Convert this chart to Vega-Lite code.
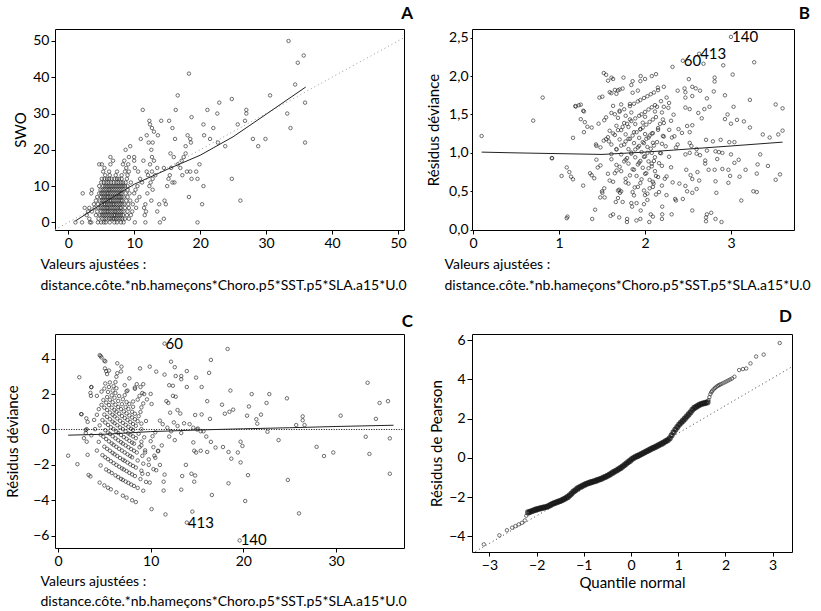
{
"$schema": "https://vega.github.io/schema/vega-lite/v6.json",
"padding": {"left": 5, "top": 4, "right": 0, "bottom": 0},
"bounds": "flush",
"columns": 2,
"spacing": {"row": 104, "column": 68},
"config": {
 "font": "Lato",
 "view": {"stroke": "black", "strokeWidth": 1},
 "axis": {"grid": false, "domain": false, "tickColor": "black", "tickSize": 4, "labelColor": "black", "labelFontSize": 14, "labelFont": "Lato", "titleFont": "Lato", "titleFontSize": 14, "titleFontWeight": "normal", "titleColor": "black", "labelPadding": 2},
 "title": {"anchor": "end", "fontSize": 17, "fontWeight": "bold", "font": "Lato", "color": "black"},
 "point": {"shape": "circle", "filled": false, "size": 12, "stroke": "#1a1a1a", "strokeWidth": 0.9},
 "text": {"font": "Lato", "fontSize": 15, "align": "left", "baseline": "middle", "dx": 1, "color": "black"}
},
"datasets": {
"a": [
{"x":3.3,"y":0},{"x":3.5,"y":0},{"x":4.5,"y":0},{"x":5.0,"y":0},{"x":5.4,"y":0},{"x":5.7,"y":0},{"x":6.3,"y":0},{"x":7.0,"y":0},{"x":7.4,"y":0},{"x":8.0,"y":0},{"x":8.4,"y":0},{"x":1.1,"y":0},{"x":2.1,"y":0},{"x":10.1,"y":0},{"x":11.7,"y":0},{"x":13.9,"y":0},{"x":19.6,"y":0},
{"x":3.2,"y":1},{"x":4.6,"y":1},{"x":5.2,"y":1},{"x":5.5,"y":1},{"x":6.2,"y":1},{"x":6.8,"y":1},{"x":7.3,"y":1},{"x":7.9,"y":1},{"x":8.6,"y":1},{"x":9.2,"y":1},{"x":14.5,"y":1},
{"x":2.8,"y":2},{"x":4.2,"y":2},{"x":4.8,"y":2},{"x":5.4,"y":2},{"x":6.0,"y":2},{"x":6.6,"y":2},{"x":7.1,"y":2},{"x":7.7,"y":2},{"x":8.3,"y":2},{"x":8.9,"y":2},{"x":9.5,"y":2},{"x":11.6,"y":2},
{"x":3.0,"y":3},{"x":3.6,"y":3},{"x":4.4,"y":3},{"x":5.0,"y":3},{"x":5.6,"y":3},{"x":6.1,"y":3},{"x":6.7,"y":3},{"x":7.2,"y":3},{"x":7.8,"y":3},{"x":8.4,"y":3},{"x":9.0,"y":3},{"x":9.7,"y":3},{"x":11.8,"y":3},{"x":13.5,"y":3},
{"x":2.5,"y":4},{"x":3.2,"y":4},{"x":4.0,"y":4},{"x":4.6,"y":4},{"x":5.2,"y":4},{"x":5.8,"y":4},{"x":6.3,"y":4},{"x":6.9,"y":4},{"x":7.5,"y":4},{"x":8.0,"y":4},{"x":8.6,"y":4},{"x":9.2,"y":4},{"x":10.3,"y":4},{"x":11.5,"y":4},
{"x":3.9,"y":5},{"x":4.5,"y":5},{"x":5.1,"y":5},{"x":5.6,"y":5},{"x":6.2,"y":5},{"x":6.8,"y":5},{"x":7.3,"y":5},{"x":7.9,"y":5},{"x":8.5,"y":5},{"x":9.1,"y":5},{"x":9.8,"y":5},{"x":11.7,"y":5},{"x":13.8,"y":5},{"x":14.8,"y":5},{"x":20.3,"y":5},
{"x":4.2,"y":6},{"x":4.8,"y":6},{"x":5.4,"y":6},{"x":6.0,"y":6},{"x":6.5,"y":6},{"x":7.1,"y":6},{"x":7.7,"y":6},{"x":8.2,"y":6},{"x":8.8,"y":6},{"x":9.4,"y":6},{"x":10.4,"y":6},{"x":12.6,"y":6},{"x":14.6,"y":6},{"x":26.1,"y":6},
{"x":4.4,"y":7},{"x":5.0,"y":7},{"x":5.6,"y":7},{"x":6.1,"y":7},{"x":6.7,"y":7},{"x":7.3,"y":7},{"x":7.8,"y":7},{"x":8.4,"y":7},{"x":9.0,"y":7},{"x":10.8,"y":7},{"x":18.3,"y":7},
{"x":3.5,"y":8},{"x":4.7,"y":8},{"x":5.3,"y":8},{"x":5.9,"y":8},{"x":6.4,"y":8},{"x":7.0,"y":8},{"x":7.6,"y":8},{"x":8.1,"y":8},{"x":8.7,"y":8},{"x":9.3,"y":8},{"x":10.0,"y":8},{"x":2.2,"y":8},{"x":12.0,"y":8},
{"x":3.6,"y":9},{"x":4.9,"y":9},{"x":5.5,"y":9},{"x":6.1,"y":9},{"x":6.6,"y":9},{"x":7.2,"y":9},{"x":7.8,"y":9},{"x":8.4,"y":9},{"x":9.0,"y":9},{"x":10.2,"y":9},{"x":12.8,"y":9},
{"x":4.7,"y":10},{"x":5.3,"y":10},{"x":5.9,"y":10},{"x":6.5,"y":10},{"x":7.1,"y":10},{"x":7.7,"y":10},{"x":8.3,"y":10},{"x":9.0,"y":10},{"x":10.5,"y":10},{"x":12.3,"y":10},{"x":15.0,"y":10},{"x":20.5,"y":10},
{"x":5.0,"y":11},{"x":5.8,"y":11},{"x":6.5,"y":11},{"x":7.3,"y":11},{"x":8.0,"y":11},{"x":8.7,"y":11},{"x":9.5,"y":11},{"x":11.2,"y":11},{"x":12.5,"y":11},{"x":15.8,"y":11},{"x":16.1,"y":11},
{"x":5.1,"y":12},{"x":5.9,"y":12},{"x":6.6,"y":12},{"x":7.4,"y":12},{"x":8.1,"y":12},{"x":8.9,"y":12},{"x":10.9,"y":12},{"x":12.8,"y":12},{"x":15.2,"y":12},{"x":18.7,"y":12},{"x":19.6,"y":12},{"x":24.8,"y":12},
{"x":5.6,"y":13},{"x":6.3,"y":13},{"x":7.2,"y":13},{"x":8.1,"y":13},{"x":9.0,"y":13},{"x":12.1,"y":13},{"x":13.2,"y":13},{"x":15.4,"y":13},{"x":17.3,"y":13},
{"x":5.3,"y":14},{"x":6.2,"y":14},{"x":7.4,"y":14},{"x":8.6,"y":14},{"x":9.2,"y":14},{"x":10.6,"y":14},{"x":11.9,"y":14},{"x":12.7,"y":14},{"x":18.0,"y":14},{"x":18.5,"y":14},{"x":19.4,"y":14},
{"x":5.5,"y":15},{"x":8.8,"y":15},{"x":10.1,"y":15},{"x":13.5,"y":15},{"x":14.5,"y":15},{"x":15.6,"y":15},{"x":17.0,"y":15},
{"x":4.7,"y":16},{"x":5.1,"y":16},{"x":6.4,"y":16},{"x":8.3,"y":16},{"x":9.1,"y":16},{"x":12.4,"y":16},{"x":16.6,"y":16},{"x":19.9,"y":16},
{"x":6.8,"y":17},{"x":8.5,"y":17},{"x":10.0,"y":17},{"x":11.4,"y":17},{"x":13.0,"y":17},{"x":17.2,"y":17},
{"x":6.4,"y":18},{"x":9.2,"y":18},{"x":10.0,"y":18},{"x":12.7,"y":18},{"x":16.0,"y":18},{"x":17.5,"y":18},
{"x":15.5,"y":19},{"x":17.8,"y":19},{"x":8.7,"y":20},{"x":12.6,"y":20},
{"x":9.4,"y":21},{"x":17.8,"y":21},{"x":23.8,"y":21},{"x":28.8,"y":21},
{"x":12.2,"y":22},{"x":12.8,"y":22},{"x":18.6,"y":22},{"x":22.7,"y":22},{"x":35.9,"y":22},
{"x":11.0,"y":23},{"x":16.2,"y":23},{"x":18.5,"y":23},{"x":21.5,"y":23},{"x":28.0,"y":23},{"x":29.9,"y":23},
{"x":11.9,"y":24},{"x":13.6,"y":24},{"x":18.1,"y":24},{"x":20.6,"y":24},{"x":13.0,"y":25},
{"x":12.7,"y":26},{"x":15.8,"y":26},{"x":22.0,"y":26},{"x":33.7,"y":26},
{"x":12.4,"y":27},{"x":20.5,"y":27},{"x":25.7,"y":27},
{"x":12.3,"y":28},{"x":14.1,"y":28},{"x":15.3,"y":28},{"x":26.8,"y":28},{"x":18.7,"y":29},
{"x":22.6,"y":30},{"x":27.0,"y":30},{"x":33.2,"y":30},
{"x":11.3,"y":31},{"x":16.3,"y":31},{"x":21.1,"y":31},{"x":27.0,"y":31},
{"x":22.9,"y":33},{"x":35.9,"y":33},{"x":24.8,"y":34},{"x":16.6,"y":35},{"x":30.6,"y":35},
{"x":34.4,"y":38},{"x":18.3,"y":41},{"x":34.8,"y":44},{"x":35.7,"y":46},{"x":33.4,"y":50},
{"x":5.8,"y":1},{"x":6.5,"y":1},{"x":7.0,"y":1},{"x":7.6,"y":1},{"x":8.2,"y":1},
{"x":5.1,"y":2},{"x":5.7,"y":2},{"x":6.3,"y":2},{"x":6.9,"y":2},{"x":7.4,"y":2},{"x":8.0,"y":2},
{"x":5.3,"y":3},{"x":5.9,"y":3},{"x":6.4,"y":3},{"x":7.0,"y":3},{"x":7.5,"y":3},{"x":8.1,"y":3},
{"x":4.9,"y":4},{"x":5.5,"y":4},{"x":6.0,"y":4},{"x":6.6,"y":4},{"x":7.2,"y":4},{"x":7.8,"y":4},
{"x":5.4,"y":5},{"x":5.9,"y":5},{"x":6.5,"y":5},{"x":7.0,"y":5},{"x":7.6,"y":5},{"x":8.2,"y":5},
{"x":5.1,"y":6},{"x":5.7,"y":6},{"x":6.3,"y":6},{"x":6.8,"y":6},{"x":7.4,"y":6},{"x":8.0,"y":6},
{"x":5.3,"y":7},{"x":5.9,"y":7},{"x":6.4,"y":7},{"x":7.0,"y":7},{"x":7.6,"y":7},{"x":8.1,"y":7},
{"x":5.0,"y":8},{"x":5.6,"y":8},{"x":6.1,"y":8},{"x":6.7,"y":8},{"x":7.3,"y":8},{"x":7.9,"y":8},
{"x":5.2,"y":9},{"x":5.8,"y":9},{"x":6.3,"y":9},{"x":6.9,"y":9},{"x":7.5,"y":9},{"x":8.1,"y":9},
{"x":5.6,"y":10},{"x":6.2,"y":10},{"x":6.8,"y":10},{"x":7.4,"y":10},{"x":8.0,"y":10},{"x":8.6,"y":10},
{"x":5.4,"y":11},{"x":6.1,"y":11},{"x":6.9,"y":11},{"x":7.6,"y":11},{"x":8.3,"y":11},
{"x":5.5,"y":12},{"x":6.2,"y":12},{"x":7.0,"y":12},{"x":7.7,"y":12}
],
"aline": [{"x":1.1,"y":0.4},{"x":5,"y":5},{"x":10,"y":10.5},{"x":15,"y":14.6},{"x":20,"y":18.5},{"x":25,"y":23.6},{"x":30,"y":29.8},{"x":36,"y":37.3}],
"aref": [{"x":-2,"y":-2},{"x":52,"y":52}],
"b": [
{"x":1.194,"y":1.603},{"x":1.253,"y":1.628},{"x":1.504,"y":1.732},{"x":1.609,"y":1.778},{"x":1.686,"y":1.814},{"x":1.74,"y":1.838},{"x":1.841,"y":1.884},{"x":1.946,"y":1.934},{"x":2.001,"y":1.962},{"x":2.079,"y":2.0},{"x":2.128,"y":2.025},
{"x":1.163,"y":1.196},{"x":1.526,"y":1.425},{"x":1.649,"y":1.503},{"x":1.705,"y":1.536},{"x":1.825,"y":1.609},{"x":1.917,"y":1.67},{"x":1.988,"y":1.715},{"x":2.067,"y":1.764},{"x":2.152,"y":1.817},{"x":2.219,"y":1.86},
{"x":1.03,"y":0.7},{"x":1.435,"y":1.091},{"x":1.569,"y":1.204},{"x":1.686,"y":1.296},{"x":1.792,"y":1.378},{"x":1.887,"y":1.449},{"x":1.96,"y":1.503},{"x":2.041,"y":1.565},{"x":2.116,"y":1.622},{"x":2.186,"y":1.673},{"x":2.251,"y":1.72},
{"x":1.099,"y":0.17},{"x":1.281,"y":0.574},{"x":1.482,"y":0.837},{"x":1.609,"y":0.985},{"x":1.723,"y":1.095},{"x":1.808,"y":1.183},{"x":1.902,"y":1.269},{"x":1.974,"y":1.33},{"x":2.054,"y":1.404},{"x":2.128,"y":1.466},{"x":2.197,"y":1.526},{"x":2.272,"y":1.587},
{"x":0.916,"y":0.933},{"x":1.163,"y":0.656},{"x":1.386,"y":0.14},{"x":1.526,"y":0.539},{"x":1.649,"y":0.735},{"x":1.758,"y":0.889},{"x":1.841,"y":0.99},{"x":1.932,"y":1.091},{"x":2.015,"y":1.183},{"x":2.079,"y":1.253},{"x":2.152,"y":1.323},{"x":2.219,"y":1.389},{"x":2.332,"y":1.497},
{"x":1.361,"y":0.735},{"x":1.504,"y":0.48},{"x":1.629,"y":0.2},{"x":1.723,"y":0.5},{"x":1.825,"y":0.707},{"x":1.917,"y":0.849},{"x":1.988,"y":0.949},{"x":2.067,"y":1.054},{"x":2.14,"y":1.14},{"x":2.208,"y":1.221},{"x":2.282,"y":1.3},
{"x":1.435,"y":0.911},{"x":1.569,"y":0.728},{"x":1.686,"y":0.51},{"x":1.792,"y":0.14},{"x":1.872,"y":0.447},{"x":1.96,"y":0.656},{"x":2.041,"y":0.8},{"x":2.104,"y":0.894},{"x":2.175,"y":1.0},{"x":2.241,"y":1.086},{"x":2.342,"y":1.217},
{"x":1.482,"y":1.072},{"x":1.609,"y":0.917},{"x":1.723,"y":0.762},{"x":1.808,"y":0.6},{"x":1.902,"y":0.346},{"x":1.988,"y":0.332},{"x":2.054,"y":0.539},{"x":2.128,"y":0.7},{"x":2.197,"y":0.831},{"x":2.38,"y":1.109},
{"x":1.253,"y":1.439},{"x":1.548,"y":1.179},{"x":1.668,"y":1.049},{"x":1.775,"y":0.911},{"x":1.856,"y":0.787},{"x":1.946,"y":0.608},{"x":2.028,"y":0.387},{"x":2.092,"y":0.17},{"x":2.163,"y":0.49},{"x":2.23,"y":0.663},{"x":2.303,"y":0.812},
{"x":1.281,"y":1.549},{"x":1.589,"y":1.288},{"x":1.705,"y":1.175},{"x":1.808,"y":1.049},{"x":1.887,"y":0.943},{"x":1.974,"y":0.806},{"x":2.054,"y":0.648},{"x":2.128,"y":0.458},{"x":2.197,"y":0.14},{"x":2.322,"y":0.616},
{"x":1.548,"y":1.463},{"x":1.668,"y":1.353},{"x":1.775,"y":1.241},{"x":1.872,"y":1.127},{"x":1.96,"y":1.01},{"x":2.041,"y":0.889},{"x":2.116,"y":0.762},{"x":2.197,"y":0.574},{"x":2.351,"y":0.4},
{"x":1.609,"y":1.52},{"x":1.758,"y":1.389},{"x":1.872,"y":1.269},{"x":1.988,"y":1.127},{"x":2.079,"y":1.0},{"x":2.163,"y":0.866},{"x":2.251,"y":0.693},
{"x":1.629,"y":1.612},{"x":1.775,"y":1.483},{"x":1.887,"y":1.375},{"x":2.001,"y":1.245},{"x":2.092,"y":1.131},{"x":2.186,"y":0.995},
{"x":1.723,"y":1.631},{"x":1.841,"y":1.526},{"x":1.974,"y":1.393},{"x":2.092,"y":1.257},{"x":2.197,"y":1.118},
{"x":1.668,"y":1.769},{"x":1.825,"y":1.637},{"x":2.001,"y":1.47},{"x":2.152,"y":1.3},{"x":2.219,"y":1.212},
{"x":1.705,"y":1.825},{"x":2.175,"y":1.378},{"x":2.313,"y":1.2},
{"x":1.548,"y":2.017},{"x":1.629,"y":1.962},{"x":1.856,"y":1.783},{"x":2.116,"y":1.539},{"x":2.208,"y":1.435},
{"x":1.917,"y":1.811},{"x":2.14,"y":1.6},{"x":2.303,"y":1.418},{"x":1.856,"y":1.934},{"x":2.219,"y":1.6},
{"x":1.758,"y":1.568},{"x":1.872,"y":1.64},{"x":1.946,"y":1.688},{"x":2.028,"y":1.738},{"x":2.104,"y":1.786},
{"x":1.629,"y":1.253},{"x":1.74,"y":1.338},{"x":1.841,"y":1.414},{"x":1.932,"y":1.483},{"x":2.001,"y":1.533},{"x":2.079,"y":1.594},
{"x":1.668,"y":1.044},{"x":1.775,"y":1.149},{"x":1.856,"y":1.225},{"x":1.946,"y":1.308},{"x":2.015,"y":1.367},{"x":2.092,"y":1.435},
{"x":1.589,"y":0.64},{"x":1.705,"y":0.819},{"x":1.792,"y":0.933},{"x":1.887,"y":1.044},{"x":1.974,"y":1.14},{"x":2.054,"y":1.225},
{"x":1.686,"y":0.412},{"x":1.775,"y":0.616},{"x":1.872,"y":0.781},{"x":1.946,"y":0.894},{"x":2.028,"y":1.0},{"x":2.104,"y":1.095},
{"x":1.629,"y":0.624},{"x":1.74,"y":0.361},{"x":1.841,"y":0.346},{"x":1.917,"y":0.557},{"x":2.001,"y":0.728},{"x":2.079,"y":0.86},
{"x":1.668,"y":0.843},{"x":1.775,"y":0.663},{"x":1.856,"y":0.49},{"x":1.946,"y":0.14},{"x":2.028,"y":0.469},{"x":2.092,"y":0.624},
{"x":1.609,"y":1.109},{"x":1.723,"y":0.98},{"x":1.808,"y":0.86},{"x":1.902,"y":0.7},{"x":1.988,"y":0.51},{"x":2.067,"y":0.2},
{"x":1.649,"y":1.233},{"x":1.758,"y":1.109},{"x":1.841,"y":1.005},{"x":1.932,"y":0.872},{"x":2.015,"y":0.735},{"x":2.092,"y":0.557},
{"x":1.723,"y":1.296},{"x":1.825,"y":1.183},{"x":1.917,"y":1.072},{"x":2.001,"y":0.954},{"x":2.079,"y":0.825},{"x":2.152,"y":0.686},
{"x":1.686,"y":1.456},{"x":1.808,"y":1.338},{"x":1.932,"y":1.196},{"x":2.028,"y":1.077},{"x":2.116,"y":0.943},
{"x":1.705,"y":1.549},{"x":1.825,"y":1.435},{"x":1.946,"y":1.308},{"x":2.041,"y":1.2},
{"x":0.10,"y":1.22},{"x":0.70,"y":1.42},{"x":0.81,"y":1.72},{"x":0.92,"y":0.93},{"x":1.09,"y":0.15},{"x":1.09,"y":0.81},{"x":1.12,"y":0.75},{"x":1.14,"y":0.69},{"x":1.19,"y":1.61},{"x":1.23,"y":1.62},{"x":1.29,"y":1.54},{"x":1.30,"y":1.40},{"x":1.33,"y":1.34},{"x":1.38,"y":1.33},{"x":1.29,"y":1.27},{"x":1.43,"y":1.11},{"x":1.52,"y":1.16},{"x":1.58,"y":1.15},{"x":1.38,"y":0.71},{"x":1.41,"y":0.67},{"x":1.45,"y":0.81},{"x":1.67,"y":0.77},{"x":1.50,"y":0.5},{"x":1.48,"y":0.42},{"x":1.53,"y":0.42},{"x":1.70,"y":0.52},{"x":1.66,"y":0.36},{"x":1.42,"y":0.26},{"x":1.60,"y":0.18},{"x":1.79,"y":0.10},{"x":1.52,"y":2.04},{"x":1.57,"y":1.94},{"x":1.61,"y":1.98},{"x":1.59,"y":1.79},{"x":1.65,"y":1.82},{"x":1.46,"y":1.38},{"x":1.47,"y":1.72},{"x":1.70,"y":0.16},{"x":1.71,"y":0.48},{"x":1.85,"y":0.3},{"x":1.9,"y":0.12},{"x":2.05,"y":0.1},{"x":2.2,"y":0.2},{"x":2.2,"y":0.3},{"x":1.95,"y":0.25},{"x":1.88,"y":0.55},{"x":2.0,"y":0.45},{"x":2.1,"y":0.6},{"x":1.75,"y":1.98},{"x":1.95,"y":2.0},{"x":2.15,"y":1.85},{"x":2.28,"y":1.65},
{"x":3.0,"y":2.51},{"x":2.63,"y":2.29},{"x":2.44,"y":2.2},{"x":2.32,"y":2.12},{"x":2.68,"y":2.16},{"x":2.91,"y":2.14},{"x":3.27,"y":2.18},{"x":3.02,"y":2.02},{"x":2.51,"y":1.96},{"x":2.81,"y":1.98},{"x":2.81,"y":1.93},{"x":2.38,"y":1.81},{"x":2.46,"y":1.84},{"x":2.47,"y":1.79},{"x":2.55,"y":1.86},{"x":2.59,"y":1.84},{"x":2.64,"y":1.81},{"x":2.80,"y":1.80},{"x":2.93,"y":1.75},{"x":2.47,"y":1.72},{"x":2.55,"y":1.74},{"x":2.72,"y":1.71},{"x":3.22,"y":1.69},{"x":3.52,"y":1.63},{"x":3.60,"y":1.58},{"x":3.03,"y":1.60},{"x":2.47,"y":1.59},{"x":2.52,"y":1.57},{"x":2.69,"y":1.57},{"x":2.75,"y":1.60},{"x":2.62,"y":1.52},{"x":2.66,"y":1.45},{"x":2.96,"y":1.50},{"x":2.93,"y":1.44},{"x":3.07,"y":1.43},{"x":3.15,"y":1.41},{"x":3.00,"y":1.38},{"x":3.22,"y":1.33},{"x":2.49,"y":1.35},{"x":2.55,"y":1.36},{"x":2.39,"y":1.31},{"x":2.43,"y":1.26},{"x":2.52,"y":1.27},{"x":2.71,"y":1.17},{"x":2.79,"y":1.15},{"x":2.88,"y":1.17},{"x":2.98,"y":1.14},{"x":3.04,"y":1.14},{"x":3.37,"y":1.24},{"x":3.55,"y":1.24},{"x":3.60,"y":1.29},{"x":2.52,"y":1.13},{"x":2.54,"y":1.09},{"x":2.36,"y":1.07},{"x":2.60,"y":1.05},{"x":2.60,"y":0.99},{"x":2.64,"y":0.97},{"x":2.72,"y":1.03},{"x":2.82,"y":1.02},{"x":2.86,"y":1.01},{"x":2.90,"y":1.0},{"x":3.0,"y":0.98},{"x":3.09,"y":0.91},{"x":3.34,"y":0.98},{"x":2.47,"y":0.98},{"x":2.52,"y":1.0},{"x":2.28,"y":0.95},{"x":2.70,"y":0.90},{"x":2.70,"y":0.86},{"x":2.84,"y":0.92},{"x":3.04,"y":0.87},{"x":3.31,"y":0.85},{"x":3.43,"y":0.83},{"x":2.90,"y":0.79},{"x":2.97,"y":0.78},{"x":3.17,"y":0.78},{"x":2.48,"y":0.78},{"x":2.53,"y":0.71},{"x":2.55,"y":0.66},{"x":2.61,"y":0.75},{"x":2.63,"y":0.64},{"x":2.74,"y":0.78},{"x":2.81,"y":0.78},{"x":2.99,"y":0.70},{"x":3.10,"y":0.69},{"x":3.30,"y":0.73},{"x":2.82,"y":0.63},{"x":2.97,"y":0.61},{"x":3.52,"y":0.65},{"x":2.47,"y":0.57},{"x":2.49,"y":0.50},{"x":2.55,"y":0.48},{"x":2.60,"y":0.53},{"x":3.26,"y":0.50},{"x":3.30,"y":0.49},{"x":2.83,"y":0.48},{"x":2.36,"y":0.38},{"x":2.44,"y":0.40},{"x":2.55,"y":0.25},{"x":3.12,"y":0.38},{"x":2.72,"y":0.20},{"x":2.77,"y":0.22},{"x":2.71,"y":0.16},{"x":2.71,"y":0.11},{"x":2.82,"y":0.14},{"x":2.89,"y":0.10},{"x":2.31,"y":0.20},{"x":2.25,"y":0.45},{"x":2.4,"y":0.6},{"x":3.57,"y":0.72},{"x":3.45,"y":1.2}
],
"bline": [{"x":0.1,"y":1.01},{"x":0.5,"y":1.0},{"x":1.0,"y":0.99},{"x":1.5,"y":0.98},{"x":2.0,"y":1.01},{"x":2.5,"y":1.05},{"x":3.0,"y":1.09},{"x":3.6,"y":1.14}],
"blab": [{"x":3.0,"y":2.51,"l":"140"},{"x":2.63,"y":2.29,"l":"413"},{"x":2.44,"y":2.2,"l":"60"}],
"c": [
{"x":3.3,"y":-2.57},{"x":3.5,"y":-2.65},{"x":4.5,"y":-3.0},{"x":5.0,"y":-3.16},{"x":5.4,"y":-3.29},{"x":5.7,"y":-3.38},{"x":6.3,"y":-3.55},{"x":7.0,"y":-3.74},{"x":7.4,"y":-3.85},{"x":8.0,"y":-4.0},{"x":8.4,"y":-4.1},
{"x":3.2,"y":-1.43},{"x":4.6,"y":-2.03},{"x":5.2,"y":-2.26},{"x":5.5,"y":-2.36},{"x":6.2,"y":-2.59},{"x":6.8,"y":-2.79},{"x":7.3,"y":-2.94},{"x":7.9,"y":-3.11},{"x":8.6,"y":-3.3},{"x":9.2,"y":-3.46},
{"x":2.8,"y":-0.49},{"x":4.2,"y":-1.19},{"x":4.8,"y":-1.45},{"x":5.4,"y":-1.68},{"x":6.0,"y":-1.9},{"x":6.6,"y":-2.1},{"x":7.1,"y":-2.26},{"x":7.7,"y":-2.45},{"x":8.3,"y":-2.63},{"x":8.9,"y":-2.8},{"x":9.5,"y":-2.96},
{"x":3.0,"y":-0.03},{"x":3.6,"y":-0.33},{"x":4.4,"y":-0.7},{"x":5.0,"y":-0.97},{"x":5.6,"y":-1.2},{"x":6.1,"y":-1.4},{"x":6.7,"y":-1.61},{"x":7.2,"y":-1.77},{"x":7.8,"y":-1.97},{"x":8.4,"y":-2.15},{"x":9.0,"y":-2.33},{"x":9.7,"y":-2.52},
{"x":2.5,"y":0.87},{"x":3.2,"y":0.43},{"x":4.0,"y":0.02},{"x":4.6,"y":-0.29},{"x":5.2,"y":-0.54},{"x":5.8,"y":-0.79},{"x":6.3,"y":-0.98},{"x":6.9,"y":-1.19},{"x":7.5,"y":-1.4},{"x":8.0,"y":-1.57},{"x":8.6,"y":-1.75},{"x":9.2,"y":-1.93},{"x":10.3,"y":-2.24},
{"x":3.9,"y":0.54},{"x":4.5,"y":0.23},{"x":5.1,"y":-0.04},{"x":5.6,"y":-0.25},{"x":6.2,"y":-0.5},{"x":6.8,"y":-0.72},{"x":7.3,"y":-0.9},{"x":7.9,"y":-1.11},{"x":8.5,"y":-1.3},{"x":9.1,"y":-1.49},{"x":9.8,"y":-1.69},
{"x":4.2,"y":0.83},{"x":4.8,"y":0.53},{"x":5.4,"y":0.26},{"x":6.0,"y":0.02},{"x":6.5,"y":-0.2},{"x":7.1,"y":-0.43},{"x":7.7,"y":-0.64},{"x":8.2,"y":-0.8},{"x":8.8,"y":-1.0},{"x":9.4,"y":-1.18},{"x":10.4,"y":-1.48},
{"x":4.4,"y":1.15},{"x":5.0,"y":0.84},{"x":5.6,"y":0.58},{"x":6.1,"y":0.36},{"x":6.7,"y":0.12},{"x":7.3,"y":-0.11},{"x":7.8,"y":-0.29},{"x":8.4,"y":-0.49},{"x":9.0,"y":-0.69},{"x":10.8,"y":-1.23},
{"x":3.5,"y":2.07},{"x":4.7,"y":1.39},{"x":5.3,"y":1.1},{"x":5.9,"y":0.83},{"x":6.4,"y":0.62},{"x":7.0,"y":0.37},{"x":7.6,"y":0.15},{"x":8.1,"y":-0.03},{"x":8.7,"y":-0.24},{"x":9.3,"y":-0.44},{"x":10.0,"y":-0.66},
{"x":3.6,"y":2.4},{"x":4.9,"y":1.66},{"x":5.5,"y":1.38},{"x":6.1,"y":1.1},{"x":6.6,"y":0.89},{"x":7.2,"y":0.65},{"x":7.8,"y":0.42},{"x":8.4,"y":0.21},{"x":9.0,"y":0.02},{"x":10.2,"y":-0.38},
{"x":4.7,"y":2.14},{"x":5.3,"y":1.83},{"x":5.9,"y":1.54},{"x":6.5,"y":1.27},{"x":7.1,"y":1.02},{"x":7.7,"y":0.79},{"x":8.3,"y":0.58},{"x":9.0,"y":0.33},{"x":10.5,"y":-0.16},
{"x":5.0,"y":2.31},{"x":5.8,"y":1.93},{"x":6.5,"y":1.61},{"x":7.3,"y":1.27},{"x":8.0,"y":1.0},{"x":8.7,"y":0.75},{"x":9.5,"y":0.48},
{"x":5.1,"y":2.6},{"x":5.9,"y":2.2},{"x":6.6,"y":1.89},{"x":7.4,"y":1.55},{"x":8.1,"y":1.28},{"x":8.9,"y":0.99},
{"x":5.6,"y":2.66},{"x":6.3,"y":2.33},{"x":7.2,"y":1.94},{"x":8.1,"y":1.58},{"x":9.0,"y":1.25},
{"x":5.3,"y":3.13},{"x":6.2,"y":2.68},{"x":7.4,"y":2.16},{"x":8.6,"y":1.69},{"x":9.2,"y":1.47},
{"x":5.5,"y":3.33},{"x":8.8,"y":1.9},{"x":10.1,"y":1.44},
{"x":4.7,"y":4.07},{"x":5.1,"y":3.85},{"x":6.4,"y":3.18},{"x":8.3,"y":2.37},{"x":9.1,"y":2.06},
{"x":6.8,"y":3.28},{"x":8.5,"y":2.56},{"x":10.0,"y":2.01},{"x":6.4,"y":3.74},{"x":9.2,"y":2.56},
{"x":5.8,"y":-2.46},{"x":6.5,"y":-2.69},{"x":7.0,"y":-2.85},{"x":7.6,"y":-3.02},{"x":8.2,"y":-3.19},
{"x":5.1,"y":-1.57},{"x":5.7,"y":-1.79},{"x":6.3,"y":-2.0},{"x":6.9,"y":-2.2},{"x":7.4,"y":-2.35},{"x":8.0,"y":-2.54},
{"x":5.3,"y":-1.09},{"x":5.9,"y":-1.32},{"x":6.4,"y":-1.5},{"x":7.0,"y":-1.71},{"x":7.5,"y":-1.87},{"x":8.1,"y":-2.06},
{"x":4.9,"y":-0.41},{"x":5.5,"y":-0.67},{"x":6.0,"y":-0.87},{"x":6.6,"y":-1.09},{"x":7.2,"y":-1.3},{"x":7.8,"y":-1.5},
{"x":5.4,"y":-0.17},{"x":5.9,"y":-0.38},{"x":6.5,"y":-0.61},{"x":7.0,"y":-0.8},{"x":7.6,"y":-1.0},{"x":8.2,"y":-1.2},
{"x":5.1,"y":0.39},{"x":5.7,"y":0.13},{"x":6.3,"y":-0.12},{"x":6.8,"y":-0.31},{"x":7.4,"y":-0.53},{"x":8.0,"y":-0.74},
{"x":5.3,"y":0.71},{"x":5.9,"y":0.44},{"x":6.4,"y":0.24},{"x":7.0,"y":0.02},{"x":7.6,"y":-0.22},{"x":8.1,"y":-0.39},
{"x":5.0,"y":1.23},{"x":5.6,"y":0.96},{"x":6.1,"y":0.74},{"x":6.7,"y":0.49},{"x":7.3,"y":0.26},{"x":7.9,"y":0.04},
{"x":5.2,"y":1.52},{"x":5.8,"y":1.23},{"x":6.3,"y":1.01},{"x":6.9,"y":0.76},{"x":7.5,"y":0.54},{"x":8.1,"y":0.31},
{"x":5.6,"y":1.68},{"x":6.2,"y":1.4},{"x":6.8,"y":1.15},{"x":7.4,"y":0.91},{"x":8.0,"y":0.68},{"x":8.6,"y":0.47},
{"x":5.4,"y":2.12},{"x":6.1,"y":1.79},{"x":6.9,"y":1.43},{"x":7.6,"y":1.16},{"x":8.3,"y":0.89},
{"x":5.5,"y":2.4},{"x":6.2,"y":2.06},{"x":7.0,"y":1.71},{"x":7.7,"y":1.44},
{"x":11.5,"y":4.85},{"x":18.3,"y":4.55},{"x":16.5,"y":3.93},{"x":12.2,"y":3.83},{"x":12.6,"y":3.52},{"x":13.9,"y":3.3},{"x":11.5,"y":3.1},{"x":16.3,"y":3.2},{"x":12.7,"y":3.02},{"x":13.3,"y":3.02},{"x":13.3,"y":2.84},{"x":14.9,"y":2.93},{"x":12.0,"y":2.5},{"x":12.4,"y":2.47},{"x":13.9,"y":2.4},{"x":15.5,"y":2.4},{"x":18.6,"y":2.2},{"x":20.9,"y":2.0},{"x":22.8,"y":2.0},{"x":22.5,"y":1.5},{"x":24.7,"y":1.76},{"x":12.4,"y":1.9},{"x":12.7,"y":1.85},{"x":16.1,"y":1.6},{"x":17.7,"y":1.4},{"x":20.6,"y":1.3},{"x":18.9,"y":1.12},{"x":18.5,"y":1.0},{"x":18.0,"y":0.89},{"x":21.9,"y":0.84},{"x":20.4,"y":0.78},{"x":15.5,"y":0.85},{"x":14.8,"y":0.82},{"x":16.4,"y":0.6},{"x":21.4,"y":0.58},{"x":21.5,"y":0.33},{"x":26.4,"y":0.74},{"x":26.4,"y":0.52},{"x":25.7,"y":0.25},{"x":26.6,"y":0.25},{"x":30.5,"y":0.78},{"x":33.4,"y":2.64},{"x":34.7,"y":1.5},{"x":35.6,"y":1.6},{"x":34.3,"y":0.6},{"x":33.2,"y":-0.41},{"x":35.8,"y":-0.5},{"x":33.6,"y":-1.38},{"x":35.8,"y":-2.5},{"x":29.7,"y":-1.3},{"x":28.7,"y":-1.5},{"x":27.9,"y":-0.98},{"x":23.8,"y":-0.6},{"x":22.6,"y":-0.13},{"x":19.7,"y":-0.69},{"x":19.9,"y":-0.93},{"x":19.4,"y":-1.3},{"x":18.7,"y":-1.65},{"x":19.7,"y":-1.86},{"x":18.4,"y":-1.27},{"x":17.8,"y":-0.99},{"x":17.0,"y":-1.02},{"x":16.5,"y":-0.7},{"x":16.1,"y":-1.27},{"x":15.4,"y":-1.2},{"x":14.6,"y":-0.73},{"x":14.7,"y":-1.2},{"x":14.9,"y":-1.3},{"x":13.8,"y":-2.0},{"x":13.4,"y":-2.63},{"x":14.4,"y":-2.5},{"x":14.8,"y":-2.6},{"x":14.7,"y":-2.95},{"x":13.3,"y":-3.4},{"x":16.6,"y":-3.7},{"x":18.4,"y":-3.04},{"x":20.5,"y":-2.58},{"x":24.8,"y":-2.85},{"x":20.2,"y":-4.04},{"x":26.0,"y":-4.74},{"x":14.5,"y":-4.64},{"x":13.9,"y":-5.26},{"x":19.6,"y":-6.27},{"x":11.6,"y":-4.8},{"x":11.4,"y":-3.45},{"x":11.4,"y":-2.95},{"x":11.5,"y":-2.55},
{"x":11.0,"y":0.5},{"x":11.3,"y":0.3},{"x":11.8,"y":0.1},{"x":12.2,"y":-0.1},{"x":12.5,"y":0.4},{"x":12.9,"y":0.2},{"x":13.3,"y":-0.2},{"x":13.6,"y":0.35},{"x":14.2,"y":0.3},{"x":14.6,"y":0.1},{"x":15.1,"y":0.05},{"x":15.4,"y":-0.1},{"x":15.0,"y":0.0},{"x":12.0,"y":-0.4},{"x":12.6,"y":-0.6},{"x":11.2,"y":-0.9},{"x":10.8,"y":-1.2},{"x":10.5,"y":-1.6},{"x":11.0,"y":-2.0},{"x":10.6,"y":-2.3},{"x":10.3,"y":-1.0},{"x":11.9,"y":1.5},{"x":11.7,"y":1.6},{"x":12.9,"y":1.1},{"x":13.2,"y":0.9},{"x":12.1,"y":0.95},{"x":15.7,"y":-0.1},{"x":16.0,"y":-0.4},
{"x":2.3,"y":2.95},{"x":4.6,"y":4.15},{"x":5.0,"y":3.89},{"x":5.07,"y":3.45},{"x":6.85,"y":3.55},{"x":6.3,"y":2.98},{"x":7.7,"y":2.89},{"x":8.85,"y":3.45},{"x":9.9,"y":3.55},{"x":10.6,"y":3.27},{"x":3.6,"y":2.39},{"x":3.56,"y":1.9},{"x":4.2,"y":1.9},{"x":2.55,"y":0.86},{"x":3.06,"y":0.63},{"x":3.1,"y":0.02},{"x":3.0,"y":-0.2},{"x":3.1,"y":-0.69},{"x":1.1,"y":-1.48},{"x":2.1,"y":-1.96},{"x":4.5,"y":4.2},{"x":5.2,"y":3.3},{"x":6.0,"y":2.45},{"x":7.2,"y":2.5},{"x":8.3,"y":2.3},{"x":9.3,"y":2.0},{"x":9.6,"y":1.7},{"x":8.9,"y":2.4},{"x":7.5,"y":2.2},{"x":9.0,"y":-0.9},{"x":9.4,"y":-1.3},{"x":9.8,"y":-2.0},{"x":9.9,"y":-3.0},{"x":9.1,"y":-2.5},{"x":10.1,"y":-4.5}
],
"cline": [{"x":1.1,"y":-0.32},{"x":5,"y":-0.27},{"x":10,"y":-0.12},{"x":15,"y":-0.03},{"x":20,"y":0.04},{"x":25,"y":0.1},{"x":30,"y":0.17},{"x":36.2,"y":0.24}],
"czero": [{"x":-1,"y":0},{"x":38,"y":0}],
"clab": [{"x":11.5,"y":4.85,"l":"60"},{"x":13.9,"y":-5.26,"l":"413"},{"x":19.6,"y":-6.27,"l":"140"}],
"dt": [
{"x":-3.12,"y":-4.41},{"x":-2.79,"y":-3.95},{"x":-2.63,"y":-3.69},{"x":-2.52,"y":-3.56},{"x":-2.45,"y":-3.48},{"x":-2.38,"y":-3.39},{"x":-2.31,"y":-3.31},{"x":-2.25,"y":-3.19},{"x":-2.22,"y":-2.95},
{"x":1.64,"y":2.95},{"x":1.66,"y":3.1},{"x":1.68,"y":3.25},{"x":1.70,"y":3.35},{"x":1.72,"y":3.42},{"x":1.75,"y":3.5},{"x":1.78,"y":3.57},{"x":1.81,"y":3.63},{"x":1.84,"y":3.68},{"x":1.87,"y":3.72},{"x":1.90,"y":3.76},{"x":1.94,"y":3.80},{"x":1.98,"y":3.85},{"x":2.02,"y":3.90},{"x":2.06,"y":3.95},{"x":2.10,"y":4.0},{"x":2.14,"y":4.05},{"x":2.19,"y":4.14},{"x":2.29,"y":4.48},{"x":2.37,"y":4.53},{"x":2.44,"y":4.56},{"x":2.53,"y":4.82},{"x":2.65,"y":5.17},{"x":2.81,"y":5.27},{"x":3.15,"y":5.86}
],
"dd": [
{"x":-2.18,"y":-2.78},{"x":-2.14,"y":-2.75},{"x":-2.10,"y":-2.71},{"x":-2.06,"y":-2.67},{"x":-2.02,"y":-2.64},{"x":-1.98,"y":-2.61},{"x":-1.94,"y":-2.58},{"x":-1.90,"y":-2.56},{"x":-1.86,"y":-2.54},{"x":-1.82,"y":-2.52},{"x":-1.78,"y":-2.49},{"x":-1.74,"y":-2.44},{"x":-1.70,"y":-2.39},{"x":-1.66,"y":-2.34},{"x":-1.62,"y":-2.30},{"x":-1.58,"y":-2.26},{"x":-1.54,"y":-2.23},{"x":-1.50,"y":-2.20},{"x":-1.46,"y":-2.15},{"x":-1.42,"y":-2.10},{"x":-1.38,"y":-2.05},{"x":-1.34,"y":-1.99},{"x":-1.30,"y":-1.91},{"x":-1.26,"y":-1.82},{"x":-1.22,"y":-1.72},{"x":-1.18,"y":-1.65},{"x":-1.14,"y":-1.57},{"x":-1.10,"y":-1.51},{"x":-1.06,"y":-1.46},{"x":-1.02,"y":-1.41},{"x":-0.98,"y":-1.36},{"x":-0.94,"y":-1.32},{"x":-0.90,"y":-1.28},{"x":-0.86,"y":-1.25},{"x":-0.82,"y":-1.22},{"x":-0.78,"y":-1.19},{"x":-0.74,"y":-1.16},{"x":-0.70,"y":-1.12},{"x":-0.66,"y":-1.09},{"x":-0.62,"y":-1.05},{"x":-0.58,"y":-1.00},{"x":-0.54,"y":-0.96},{"x":-0.50,"y":-0.91},{"x":-0.46,"y":-0.86},{"x":-0.42,"y":-0.80},{"x":-0.38,"y":-0.74},{"x":-0.34,"y":-0.68},{"x":-0.30,"y":-0.63},{"x":-0.26,"y":-0.57},{"x":-0.22,"y":-0.51},{"x":-0.18,"y":-0.44},{"x":-0.14,"y":-0.36},{"x":-0.10,"y":-0.29},{"x":-0.06,"y":-0.21},{"x":-0.02,"y":-0.14},{"x":0.02,"y":-0.06},{"x":0.06,"y":0.01},{"x":0.10,"y":0.06},{"x":0.14,"y":0.10},{"x":0.18,"y":0.15},{"x":0.22,"y":0.20},{"x":0.26,"y":0.25},{"x":0.30,"y":0.30},{"x":0.34,"y":0.35},{"x":0.38,"y":0.40},{"x":0.42,"y":0.45},{"x":0.46,"y":0.50},{"x":0.50,"y":0.54},{"x":0.54,"y":0.59},{"x":0.58,"y":0.64},{"x":0.62,"y":0.69},{"x":0.66,"y":0.74},{"x":0.70,"y":0.80},{"x":0.74,"y":0.86},{"x":0.78,"y":0.91},{"x":0.82,"y":1.00},{"x":0.86,"y":1.15},{"x":0.90,"y":1.31},{"x":0.94,"y":1.45},{"x":0.98,"y":1.57},{"x":1.02,"y":1.70},{"x":1.06,"y":1.80},{"x":1.10,"y":1.90},{"x":1.14,"y":2.00},{"x":1.18,"y":2.11},{"x":1.22,"y":2.22},{"x":1.26,"y":2.33},{"x":1.30,"y":2.45},{"x":1.34,"y":2.55},{"x":1.38,"y":2.61},{"x":1.42,"y":2.67},{"x":1.46,"y":2.72},{"x":1.50,"y":2.76},{"x":1.54,"y":2.79},{"x":1.58,"y":2.81},{"x":1.62,"y":2.84}
],
"dref": [{"x":-3.37,"y":-4.88},{"x":3.41,"y":4.65}]
},
"concat": [
{
 "width": 349, "height": 201,
 "title": {"text": "A", "dx": 7, "offset": 6},
 "layer": [
  {"data": {"name": "aref"}, "mark": {"type": "line", "strokeDash": [1, 3], "color": "#999", "strokeWidth": 1, "clip": true},
   "encoding": {"x": {"field": "x", "type": "quantitative"}, "y": {"field": "y", "type": "quantitative"}}},
  {"data": {"name": "a"}, "mark": "point",
   "encoding": {
    "x": {"field": "x", "type": "quantitative", "scale": {"domain": [-2, 50.9], "nice": false, "zero": false},
     "axis": {"values": [0, 10, 20, 30, 40, 50], "title": ["Valeurs ajustées :", "distance.côte.*nb.hameçons*Choro.p5*SST.p5*SLA.a15*U.0"], "titleAnchor": "start", "titleAlign": "left", "titleX": -15, "titleY": 27, "titleBaseline": "top", "titleLineHeight": 21}},
    "y": {"field": "y", "type": "quantitative", "scale": {"domain": [-2.1, 53.3], "nice": false, "zero": false},
     "axis": {"values": [0, 10, 20, 30, 40, 50], "title": "SWO", "titleFontSize": 15}}}},
  {"data": {"name": "aline"}, "mark": {"type": "line", "color": "#222", "strokeWidth": 1},
   "encoding": {"x": {"field": "x", "type": "quantitative"}, "y": {"field": "y", "type": "quantitative"}}}
 ]
},
{
 "width": 322, "height": 201,
 "title": {"text": "B", "dx": 0, "offset": 6},
 "layer": [
  {"data": {"name": "b"}, "mark": "point",
   "encoding": {
    "x": {"field": "x", "type": "quantitative", "scale": {"domain": [-0.012, 3.733], "nice": false, "zero": false},
     "axis": {"values": [0, 1, 2, 3], "format": "d", "title": ["Valeurs ajustées :", "distance.côte.*nb.hameçons*Choro.p5*SST.p5*SLA.a15*U.0"], "titleAnchor": "start", "titleAlign": "left", "titleX": -28, "titleY": 27, "titleBaseline": "top", "titleLineHeight": 21}},
    "y": {"field": "y", "type": "quantitative", "scale": {"domain": [-0.004, 2.613], "nice": false, "zero": false},
     "axis": {"values": [0, 0.5, 1, 1.5, 2, 2.5], "labelExpr": "replace(format(datum.value, '.1f'), '.', ',')", "title": "Résidus déviance", "titleFontSize": 15, "tickSize": 2, "titlePadding": 7}}}},
  {"data": {"name": "bline"}, "mark": {"type": "line", "color": "#222", "strokeWidth": 1},
   "encoding": {"x": {"field": "x", "type": "quantitative"}, "y": {"field": "y", "type": "quantitative"}}},
  {"data": {"name": "blab"}, "mark": {"type": "text"},
   "encoding": {"x": {"field": "x", "type": "quantitative"}, "y": {"field": "y", "type": "quantitative"}, "text": {"field": "l"}}}
 ]
},
{
 "width": 349, "height": 214,
 "title": {"text": "C", "dx": 7, "offset": 3},
 "layer": [
  {"data": {"name": "czero"}, "mark": {"type": "line", "strokeDash": [1, 1.5], "color": "#000", "strokeWidth": 1, "clip": true},
   "encoding": {"x": {"field": "x", "type": "quantitative"}, "y": {"field": "y", "type": "quantitative"}}},
  {"data": {"name": "c"}, "mark": "point",
   "encoding": {
    "x": {"field": "x", "type": "quantitative", "scale": {"domain": [-0.32, 37.33], "nice": false, "zero": false},
     "axis": {"values": [0, 10, 20, 30], "title": ["Valeurs ajustées :", "distance.côte.*nb.hameçons*Choro.p5*SST.p5*SLA.a15*U.0"], "titleAnchor": "start", "titleAlign": "left", "titleX": -15, "titleY": 26, "titleBaseline": "top", "titleLineHeight": 20}},
    "y": {"field": "y", "type": "quantitative", "scale": {"domain": [-6.695, 5.395], "nice": false, "zero": false},
     "axis": {"values": [-6, -4, -2, 0, 2, 4], "title": "Résidus déviance", "titleFontSize": 15, "titlePadding": 12}}}},
  {"data": {"name": "cline"}, "mark": {"type": "line", "color": "#222", "strokeWidth": 1},
   "encoding": {"x": {"field": "x", "type": "quantitative"}, "y": {"field": "y", "type": "quantitative"}}},
  {"data": {"name": "clab"}, "mark": {"type": "text"},
   "encoding": {"x": {"field": "x", "type": "quantitative"}, "y": {"field": "y", "type": "quantitative"}, "text": {"field": "l"}}}
 ]
},
{
 "width": 320, "height": 218,
 "title": {"text": "D", "dx": 0, "offset": 7},
 "layer": [
  {"data": {"name": "dref"}, "mark": {"type": "line", "strokeDash": [1, 3], "color": "#444", "strokeWidth": 1, "clip": true},
   "encoding": {"x": {"field": "x", "type": "quantitative"}, "y": {"field": "y", "type": "quantitative"}}},
  {"data": {"name": "dd"}, "mark": {"type": "point", "size": 14, "strokeWidth": 2.4, "stroke": "#111"},
   "encoding": {"x": {"field": "x", "type": "quantitative"}, "y": {"field": "y", "type": "quantitative"}}},
  {"data": {"name": "dt"}, "mark": "point",
   "encoding": {
    "x": {"field": "x", "type": "quantitative", "scale": {"domain": [-3.37, 3.41], "nice": false, "zero": false},
     "axis": {"values": [-3, -2, -1, 0, 1, 2, 3], "title": "Quantile normal", "titleFontSize": 15, "titlePadding": 3}},
    "y": {"field": "y", "type": "quantitative", "scale": {"domain": [-4.8, 6.32], "nice": false, "zero": false},
     "axis": {"values": [-4, -2, 0, 2, 4, 6], "title": "Résidus de Pearson", "titleFontSize": 15, "tickSize": 5}}}}
 ]
}
]
}
